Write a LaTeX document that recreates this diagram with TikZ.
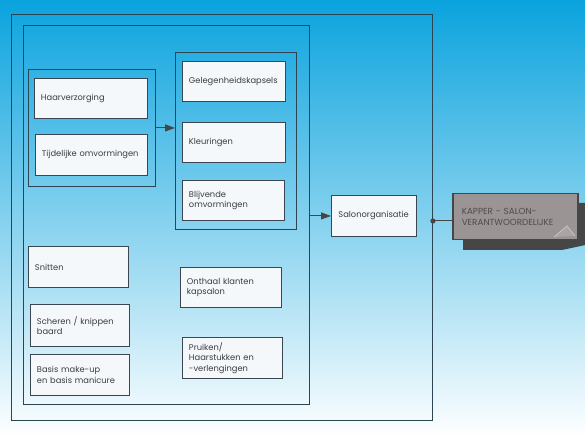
\documentclass[tikz,border=0pt]{standalone}
\usepackage{fontspec}
\setmainfont{Poppins}
\usetikzlibrary{arrows.meta}
\definecolor{bgtop}{RGB}{10,163,222}
\definecolor{bgmid}{RGB}{100,198,236}
\definecolor{frameline}{RGB}{45,68,82}
\definecolor{boxline}{RGB}{60,70,80}
\definecolor{boxfill}{RGB}{244,248,251}
\definecolor{txt}{RGB}{60,60,66}
\definecolor{kapfill}{RGB}{155,148,148}
\definecolor{kapdark}{RGB}{70,70,70}
\definecolor{kaptext}{RGB}{82,74,74}
\begin{document}
\begin{tikzpicture}[x=1bp,y=-1bp,
  frame/.style={draw=frameline, line width=0.9bp, anchor=north west, inner sep=0pt},
  box/.style={draw=boxline, fill=boxfill, line width=0.9bp, anchor=north west, align=left,
    inner xsep=6.5bp, inner ysep=0pt, font=\fontsize{8.3bp}{10.6bp}\selectfont, text=txt},
  arr/.style={draw=kapdark, line width=1bp, -{Triangle[length=10bp,width=7bp]}},
  conn/.style={draw=kapdark, line width=1bp}]
\shade[top color=bgtop, middle color=bgmid, bottom color=white] (0,0) rectangle (585,438);
\useasboundingbox (0,0) rectangle (585,438);

\node[frame, minimum width=421bp, minimum height=406bp] (outer) at (11,14) {};
\node[frame, minimum width=286bp, minimum height=379bp] (inner) at (23,25) {};
\node[frame, minimum width=127bp, minimum height=117bp] (g1) at (28,69) {};
\node[frame, minimum width=121bp, minimum height=177bp] (g2) at (175,52) {};

\node[box, text width=100bp, minimum width=113bp, minimum height=40bp] (haar) at (34,78) {Haarverzorging};
\node[box, text width=99bp, minimum width=112bp, minimum height=41bp] (tijd) at (35,134) {\mbox{Tijdelijke omvormingen}};
\node[box, text width=90bp, minimum width=103bp, minimum height=40bp] (geleg) at (182,61) {\mbox{Gelegenheidskapsels}};
\node[box, text width=90bp, minimum width=103bp, minimum height=40bp] (kleur) at (182,122) {Kleuringen};
\node[box, text width=89bp, minimum width=102bp, minimum height=40bp] (blijv) at (182,180) {Blijvende\\omvormingen};
\node[box, text width=71bp, minimum width=85bp, minimum height=41bp, inner xsep=7bp] (salon) at (331,195) {\mbox{Salonorganisatie}};
\node[box, text width=87bp, minimum width=100bp, minimum height=41bp] (snit) at (28,246) {Snitten};
\node[box, text width=86bp, minimum width=99bp, minimum height=42bp] (scher) at (30,304) {\mbox{Scheren / knippen}\\baard};
\node[box, text width=86bp, minimum width=99bp, minimum height=41bp] (basis) at (30,354) {Basis make-up\\\mbox{en basis manicure}};
\node[box, text width=88bp, minimum width=101bp, minimum height=40bp] (onth) at (180,267) {Onthaal klanten\\kapsalon};
\node[box, text width=87bp, minimum width=100bp, minimum height=41bp] (pruik) at (182,337) {Pruiken/\\Haarstukken en\\-verlengingen};

% KAPPER box with shadow
\fill[kapdark] (463,203) -- (590,203) -- (590,244) -- (562,250) -- (463,250) -- cycle;
\node[draw=kapdark, fill=kapfill, line width=1.5bp, anchor=north west, align=left,
  inner xsep=9bp, inner ysep=0pt, text width=107bp, minimum width=125bp, minimum height=46bp,
  font=\fontsize{8.8bp}{11bp}\selectfont, text=kaptext] (kapper) at (452,193) {KAPPER - SALON-\\\mbox{VERANTWOORDELIJKE}};
\draw[draw=kapfill!55!white, line width=0.8bp, fill=kapfill!85!white] (554,237) -- (567,226) -- (575,236);

\draw[arr] (g1.east) -- (g1.east -| g2.west);
\draw[arr] (inner.east |- salon.west) -- (salon.west);
\coordinate (kc) at (452,221);
\draw[conn] (kc) -- (kc -| outer.east);
\fill[kapdark] (kc -| outer.east) circle (2.6bp);
\end{tikzpicture}
\end{document}
